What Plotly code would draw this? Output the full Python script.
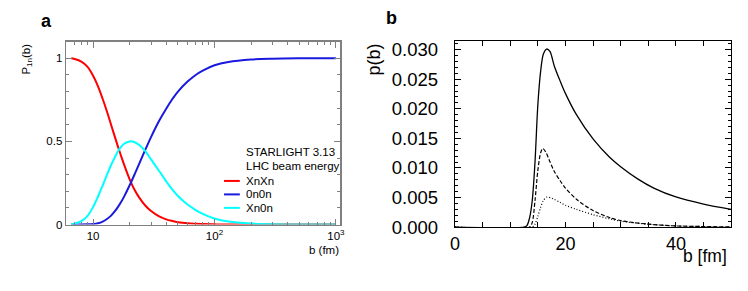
import math
import plotly.graph_objects as go

# ---------------- Panel a data (b in fm, log axis) ----------------
b_a = [6.6, 7, 8, 9, 10, 11, 12, 13, 14, 15, 16, 17, 18, 20, 22, 24, 27, 30, 35, 40,
       45, 50, 60, 70, 80, 100, 130, 200, 300, 500, 1000]
p_xnxn = [1.0, 0.996, 0.98, 0.948, 0.895, 0.83, 0.755, 0.68, 0.605, 0.535, 0.47, 0.412,
          0.36, 0.272, 0.208, 0.162, 0.113, 0.081, 0.049, 0.031, 0.021, 0.014, 0.007,
          0.004, 0.0025, 0.001, 0.0004, 0.0, 0.0, 0.0, 0.0]
p_0n0n = [0.0, 0.0, 0.0001, 0.001, 0.003, 0.008, 0.018, 0.033, 0.052, 0.077, 0.105, 0.135,
          0.168, 0.236, 0.303, 0.367, 0.452, 0.526, 0.624, 0.697, 0.755, 0.8, 0.86, 0.9,
          0.926, 0.958, 0.978, 0.993, 0.998, 1.0, 1.0]
p_xn0n = [0.002, 0.005, 0.02, 0.052, 0.105, 0.17, 0.235, 0.298, 0.355, 0.4, 0.44, 0.468,
          0.486, 0.5, 0.495, 0.478, 0.44, 0.392, 0.322, 0.26, 0.21, 0.172, 0.12, 0.087,
          0.064, 0.036, 0.018, 0.006, 0.002, 0.0006, 0.0]
legend_names = ["XnXn", "0n0n", "Xn0n"]
legend_colors = ["#ff0000", "#1a1adf", "#00ffff"]

# ---------------- Panel b data (b in fm) ----------------
b_solid = [0, 12.5, 13.0, 13.5, 14.0, 14.5, 15.0, 15.5, 16.0, 16.6, 17.2, 18, 19, 20, 22,
           25, 28, 30, 33, 36, 40, 45, 50]
p_solid = [0, 0, 0.0002, 0.0015, 0.0045, 0.011, 0.0205, 0.0262, 0.0292, 0.0301, 0.0297,
           0.0272, 0.0248, 0.0226, 0.019, 0.0149, 0.0118, 0.0102, 0.0082, 0.0066, 0.0051,
           0.0039, 0.0030]
b_dash = [0, 13.5, 14.0, 14.5, 15.0, 15.5, 15.9, 16.5, 17, 18, 19, 20, 22, 25, 28, 30, 35,
          40, 45, 50]
p_dash = [0, 0, 0.0008, 0.0045, 0.0095, 0.0125, 0.0133, 0.0126, 0.0115, 0.0094, 0.0079,
          0.0066, 0.0047, 0.0028, 0.0016, 0.0011, 0.0005, 0.0002, 0.0001, 0.00003]
b_dot = [0, 14.0, 14.5, 15.0, 15.5, 16.0, 16.7, 17.5, 18, 19, 20, 22, 25, 28, 30, 35, 40,
         45, 50]
p_dot = [0, 0, 0.0005, 0.0018, 0.0033, 0.0045, 0.0051, 0.0049, 0.0047, 0.0042, 0.0037,
         0.003, 0.0021, 0.0014, 0.001, 0.0005, 0.0002, 0.0001, 0]

FONT = "Liberation Sans, Arial, Helvetica, sans-serif"
W, H = 748, 291

fig = go.Figure()

for name, col, ys in zip(legend_names, legend_colors, [p_xnxn, p_0n0n, p_xn0n]):
    fig.add_trace(go.Scatter(x=b_a, y=ys, mode="lines", name=name,
                             line=dict(color=col, width=2, shape="spline", smoothing=1.0),
                             xaxis="x", yaxis="y", showlegend=False))

fig.add_trace(go.Scatter(x=b_solid, y=p_solid, mode="lines", showlegend=False,
                         line=dict(color="black", width=1.3, shape="spline", smoothing=0.8),
                         xaxis="x2", yaxis="y2"))
fig.add_trace(go.Scatter(x=b_dash, y=p_dash, mode="lines", showlegend=False,
                         line=dict(color="black", width=1.2, dash="4px,2px", shape="spline", smoothing=0.8),
                         xaxis="x2", yaxis="y2"))
fig.add_trace(go.Scatter(x=b_dot, y=p_dot, mode="lines", showlegend=False,
                         line=dict(color="black", width=1.2, dash="1px,2px", shape="spline", smoothing=0.8),
                         xaxis="x2", yaxis="y2"))


def px(x):
    return x / W


def py(y):
    return 1 - y / H


gray = "#808080"

annotations = [
    dict(text="<b>a</b>", x=px(34), y=py(21), xanchor="left", yanchor="middle",
         font=dict(size=18)),
    dict(text="<b>b</b>", x=px(384), y=py(18), xanchor="left", yanchor="middle",
         font=dict(size=18)),
    dict(text="P<sub>1n</sub>(b)", x=px(22), y=py(42), xanchor="center", yanchor="top",
         textangle=-90, font=dict(size=11.5)),
    dict(text="b (fm)", x=px(341), y=py(259), xanchor="right", yanchor="middle",
         font=dict(size=11.5)),
    dict(text="p(b)", x=px(374), y=py(42), xanchor="center", yanchor="top",
         textangle=-90, font=dict(size=18)),
    dict(text="b [fm]", x=px(734), y=py(265), xanchor="right", yanchor="middle",
         font=dict(size=17.5)),
    dict(text="STARLIGHT 3.13", x=px(242), y=py(157), xanchor="left", yanchor="middle",
         font=dict(size=11.5)),
    dict(text="LHC beam energy", x=px(242), y=py(172), xanchor="left", yanchor="middle",
         font=dict(size=11.5)),
]
shapes = []
for i, (name, col) in enumerate(zip(legend_names, legend_colors)):
    yy = 187 + 14 * i
    annotations.append(dict(text=name, x=px(242), y=py(yy), xanchor="left",
                            yanchor="middle", font=dict(size=11.5)))
    shapes.append(dict(type="line", xref="paper", yref="paper", x0=px(222), x1=px(238),
                       y0=py(yy), y1=py(yy), line=dict(color=col, width=2)))
for a in annotations:
    a.update(xref="paper", yref="paper", showarrow=False)

fig.update_layout(
    width=W, height=H,
    margin=dict(l=0, r=0, t=0, b=0),
    paper_bgcolor="white", plot_bgcolor="white",
    font=dict(family=FONT, color="black"),
    showlegend=False,
    xaxis=dict(domain=[px(62), px(340)], type="log",
               range=[math.log10(6.0), math.log10(1090)],
               showline=True, linecolor=gray, linewidth=1.5, mirror="ticks",
               ticks="inside", ticklen=6, tickcolor=gray, tickwidth=1,
               tickvals=[10, 100, 1000],
               ticktext=["10", "10<sup>2</sup>", "10<sup>3</sup>"],
               tickfont=dict(size=11.5), showgrid=False, zeroline=False,
               minor=dict(ticks="inside", ticklen=3, tickcolor=gray, dtick="D1", showgrid=False),
               anchor="y"),
    yaxis=dict(domain=[py(232.3), py(42.3)], range=[0, 1.1],
               showline=True, linecolor=gray, linewidth=1.5, mirror="ticks",
               ticks="inside", ticklen=6, tickcolor=gray, tickwidth=1,
               tickvals=[0, 0.5, 1], ticktext=["0", "0.5", "1"],
               tickfont=dict(size=11.5), showgrid=False, zeroline=False,
               minor=dict(ticks="inside", ticklen=3, tickcolor=gray, dtick=0.1, showgrid=False),
               anchor="x"),
    xaxis2=dict(domain=[px(456), px(736)], range=[0, 50],
                showline=True, linecolor="black", linewidth=1.2, mirror="ticks",
                ticks="inside", ticklen=5, tickcolor="black", tickwidth=1,
                tickvals=[0, 20, 40],
                tickfont=dict(size=18), showgrid=False, zeroline=False,
                minor=dict(ticks="inside", ticklen=5, tickcolor="black", dtick=5, showgrid=False),
                anchor="y2"),
    yaxis2=dict(domain=[py(235), py(41.3)], range=[0, 0.0315],
                showline=True, linecolor="black", linewidth=1.2, mirror="ticks",
                ticks="inside", ticklen=6, tickcolor="black", tickwidth=1,
                dtick=0.005, tick0=0, tickformat=".3f", ticklabelstandoff=12,
                tickfont=dict(size=18.5), showgrid=False, zeroline=False,
                minor=dict(ticks="inside", ticklen=3, tickcolor="black", dtick=0.001, showgrid=False),
                anchor="x2"),
    annotations=annotations,
    shapes=shapes,
)

fig.write_html(
    "out.html",
    config={"displayModeBar": False, "staticPlot": True},
    post_script=(
        "var s=document.createElement('style');"
        "s.innerHTML='html,body{margin:0;padding:0;overflow:hidden;}';"
        "document.head.appendChild(s);"
    ),
)
